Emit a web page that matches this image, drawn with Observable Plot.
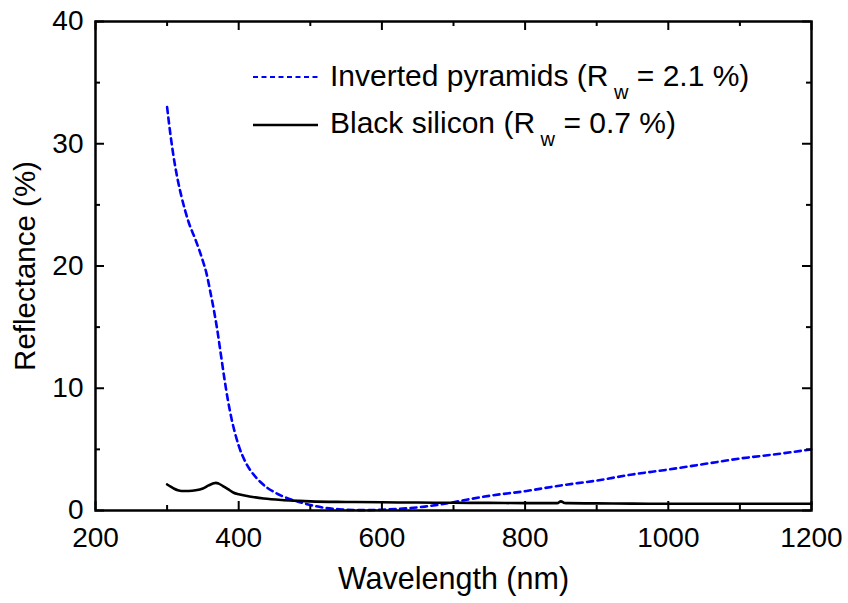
<!DOCTYPE html>
<html><head><meta charset="utf-8">
<script src="https://cdn.jsdelivr.net/npm/d3@7"></script>
<script src="https://cdn.jsdelivr.net/npm/@observablehq/plot@0.6"></script>
<style>
body{margin:0;background:#fff}
#wrap{position:relative;width:848px;height:603px;font-family:"Liberation Sans",Arial,sans-serif}
#legend{position:absolute;left:0;top:0;pointer-events:none}
</style></head><body><div id="wrap"></div>
<script>
// Inverted pyramids (blue dashed)
const pyrWl = [300,305,310,315,320,330,340,350,355,360,365,370,375,380,385,390,395,400,410,420,430,440,450,460,480,500,520,540,560,580,600,620,640,660,680,700,720,750,800,850,900,950,1000,1050,1100,1150,1200];
const pyrR  = [33.0,30.6,28.6,27.0,25.7,23.6,22.1,20.4,19.4,18.0,16.5,14.8,12.8,10.8,9.0,7.5,6.3,5.3,3.9,3.0,2.35,1.85,1.5,1.2,0.78,0.45,0.22,0.1,0.04,0.03,0.06,0.12,0.2,0.32,0.48,0.68,0.9,1.2,1.58,2.05,2.45,2.95,3.35,3.8,4.25,4.6,5.0];
// Black silicon (black solid)
const bsWl = [300,305,310,315,320,330,340,350,358,365,368,372,378,385,393,400,415,435,460,480,500,550,600,650,700,750,800,845,850,855,860,900,950,1000,1100,1200];
const bsR  = [2.13,1.95,1.78,1.66,1.6,1.6,1.65,1.8,2.05,2.22,2.26,2.2,2.0,1.75,1.45,1.32,1.15,0.98,0.86,0.8,0.75,0.7,0.67,0.65,0.63,0.62,0.6,0.6,0.75,0.62,0.6,0.58,0.56,0.55,0.55,0.55];

const xMajor = [200,400,600,800,1000,1200];
const xMinor = [300,500,700,900,1100];
const yMajor = [0,10,20,30,40];
const yMinor = [5,15,25,35];
const seriesNames = ["Inverted pyramids","Black silicon"];
const rwValues = ["2.1","0.7"];
const xLabel = "Wavelength (nm)";
const yLabel = "Reflectance (%)";

const pyr = pyrWl.map((x,i)=>({x, y: pyrR[i]}));
const bs = bsWl.map((x,i)=>({x, y: bsR[i]}));

const W=848, H=603, mL=95, mR=37, mT=21, mB=93;
const fw = W-mL-mR, fh = H-mT-mB;
const font = '"Liberation Sans", Arial, sans-serif';
const BLUE = "#0000ff";

const plot = Plot.plot({
  width: W, height: H,
  marginLeft: mL, marginRight: mR, marginTop: mT, marginBottom: mB,
  style: {fontFamily: font, fontSize: "28px", color: "#000", background: "#fff", overflow: "visible"},
  x: {domain: [200,1200]},
  y: {domain: [0,40]},
  marks: [
    Plot.line(pyr, {x:"x", y:"y", stroke: BLUE, strokeWidth: 2.6, strokeDasharray: "6,4.5", curve: "monotone-x"}),
    Plot.line(bs, {x:"x", y:"y", stroke: "#000", strokeWidth: 2.6, curve: "monotone-x"}),
    // inward ticks, bottom & top
    Plot.tickX(xMajor, {x: d=>d, insetTop: fh-9, stroke:"#000", strokeWidth: 2}),
    Plot.tickX(xMajor, {x: d=>d, insetBottom: fh-9, stroke:"#000", strokeWidth: 2}),
    Plot.tickX(xMinor, {x: d=>d, insetTop: fh-5, stroke:"#000", strokeWidth: 2}),
    Plot.tickX(xMinor, {x: d=>d, insetBottom: fh-5, stroke:"#000", strokeWidth: 2}),
    // inward ticks, left & right
    Plot.tickY(yMajor, {y: d=>d, insetRight: fw-9, stroke:"#000", strokeWidth: 2}),
    Plot.tickY(yMajor, {y: d=>d, insetLeft: fw-9, stroke:"#000", strokeWidth: 2}),
    Plot.tickY(yMinor, {y: d=>d, insetRight: fw-5, stroke:"#000", strokeWidth: 2}),
    Plot.tickY(yMinor, {y: d=>d, insetLeft: fw-5, stroke:"#000", strokeWidth: 2}),
    Plot.frame({stroke: "#000", strokeWidth: 2.5}),
    Plot.axisX({ticks: xMajor, tickSize: 0, tickPadding: 17, label: null, tickFormat: d => String(d), fontSize: 28}),
    Plot.axisY({ticks: yMajor, tickSize: 0, tickPadding: 12, label: null, tickFormat: d => String(d), fontSize: 28}),
    Plot.text([xLabel], {frameAnchor: "bottom", text: d=>d, dy: 78, fontSize: 30.5, textAnchor: "middle"}),
    Plot.text([yLabel], {frameAnchor: "left", text: d=>d, rotate: -90, dx: -70, dy: 0, fontSize: 29.5, textAnchor: "middle"})
  ]
});

const wrap = document.getElementById("wrap");
wrap.appendChild(plot);

// legend overlay
const ns = "http://www.w3.org/2000/svg";
const lg = document.createElementNS(ns, "svg");
lg.setAttribute("id","legend");
lg.setAttribute("width", W); lg.setAttribute("height", H);
const styles = [
  {stroke: BLUE, dash: "5,3.5", width: 2, lineY: 77, baseY: 86},
  {stroke: "#000", dash: null, width: 2.6, lineY: 125, baseY: 133}
];
seriesNames.forEach((name, i) => {
  const s = styles[i];
  const ln = document.createElementNS(ns, "line");
  ln.setAttribute("x1", 253); ln.setAttribute("x2", 318);
  ln.setAttribute("y1", s.lineY); ln.setAttribute("y2", s.lineY);
  ln.setAttribute("stroke", s.stroke); ln.setAttribute("stroke-width", s.width);
  if (s.dash) ln.setAttribute("stroke-dasharray", s.dash);
  lg.appendChild(ln);
  const t = document.createElementNS(ns, "text");
  t.setAttribute("x", 330); t.setAttribute("y", s.baseY);
  t.setAttribute("font-family", font); t.setAttribute("font-size", 30);
  t.setAttribute("style", "white-space:pre");
  const a = document.createElementNS(ns, "tspan"); a.textContent = name + " (R";
  const b = document.createElementNS(ns, "tspan"); b.textContent = " w"; b.setAttribute("font-size", 20); b.setAttribute("dy", 13);
  const c = document.createElementNS(ns, "tspan"); c.textContent = " = " + rwValues[i] + " %)"; c.setAttribute("dy", -13);
  t.appendChild(a); t.appendChild(b); t.appendChild(c);
  lg.appendChild(t);
});
wrap.appendChild(lg);
</script>
</body></html>
